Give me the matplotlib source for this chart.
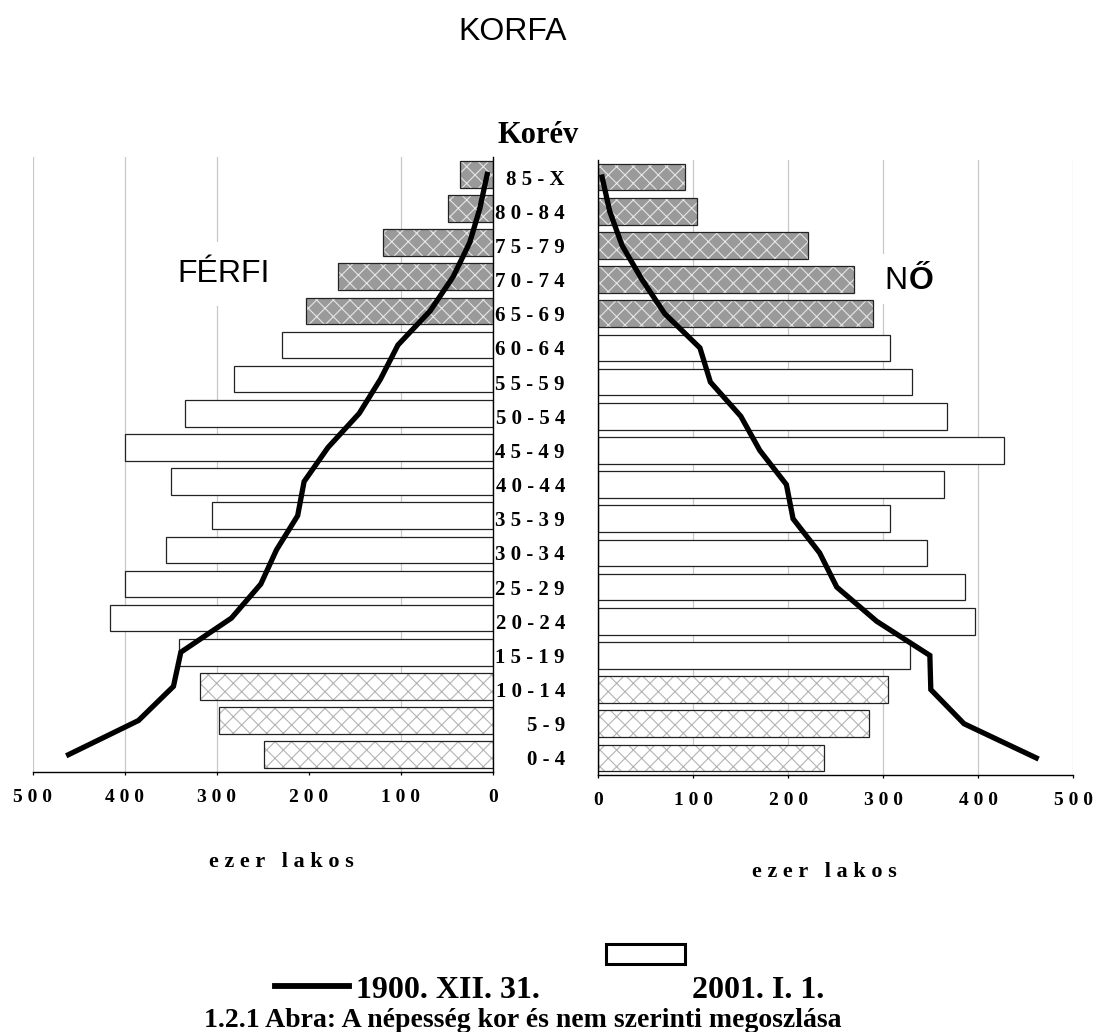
import matplotlib.pyplot as plt
from matplotlib.lines import Line2D
from matplotlib.patches import Rectangle
import numpy as np

# korcsoportok alulrol felfele
ages = ['0-4', '5-9', '10-14', '15-19', '20-24', '25-29', '30-34', '35-39', '40-44',
        '45-49', '50-54', '55-59', '60-64', '65-69', '70-74', '75-79', '80-84', '85-X']

# ezer fo
male_2001 = [249, 297, 318, 341, 416, 400, 355, 305, 350, 400, 334, 281, 229, 203, 168, 119, 49, 36]
female_2001 = [238, 285, 305, 328, 396, 386, 346, 307, 364, 427, 367, 330, 307, 289, 269, 221, 104, 91]
male_1900 = [461, 385, 347, 339, 284, 252, 235, 212, 205, 179, 145, 122, 103, 68, 43, 25, 14, 6]
female_1900 = [461, 385, 350, 349, 293, 251, 233, 205, 198, 170, 150, 118, 107, 70, 46, 25, 12, 4]

xticks = [0, 100, 200, 300, 400, 500]

SERIF = 'Liberation Serif'
SANS = 'Liberation Sans'
plt.rcParams['hatch.linewidth'] = 0.8

W, H = 1105, 1032
fig = plt.figure(figsize=(W / 100, H / 100), dpi=100)


def fx(px):
    return px / W


def fy(py):
    return 1 - py / H


ax_m = fig.add_axes([fx(32.7), fy(771.7), 460 / W, 614.4 / H])
ax_f = fig.add_axes([fx(598.3), fy(775), 475 / W, 615 / H])

pos = np.arange(len(ages))


def style_for(i):
    # 0-14: világos mintás, 65+: sötét mintás, a többi fehér
    if i <= 2:
        return 'white', 'xx', '#b4b4b4'
    if i >= 13:
        return '#9a9a9a', 'xx', '#e6e6e6'
    return 'white', '', 'white'


def draw_side(ax, bars, line, grid_at):
    for v in grid_at:
        ax.axvline(v, color='#c8c8c8', lw=0.9, zorder=0.5)
    rects = ax.barh(pos, bars, height=0.78, linewidth=0, zorder=2)
    for i, r in enumerate(rects):
        face, hatch, hcol = style_for(i)
        r.set_facecolor(face)
        r.set_hatch(hatch)
        r.set_edgecolor(hcol)
    ax.barh(pos, bars, height=0.78, fill=False, edgecolor='#222222', linewidth=0.9, zorder=2.2)
    ax.plot(line, pos, color='black', lw=3.8, zorder=3, solid_joinstyle='miter')
    ax.set_xlim(0, 500)
    ax.set_ylim(-0.5, 17.5)
    ax.set_xticks(xticks, labels=[' '.join(str(t)) for t in xticks])
    ax.tick_params(axis='x', direction='out', length=2.5, width=0.9, pad=10)
    for lab in ax.get_xticklabels():
        lab.set_fontfamily(SERIF)
        lab.set_fontweight('bold')
        lab.set_fontsize(14)
    ax.spines['top'].set_visible(False)
    for s in ax.spines.values():
        s.set_linewidth(1.0)


draw_side(ax_m, male_2001, male_1900, [100, 300, 400, 500])
ax_m.set_xlim(500, 0)
ax_m.spines['left'].set_visible(False)
ax_m.set_yticks([])

draw_side(ax_f, female_2001, female_1900, [100, 200, 300, 400, 500])
ax_f.spines['right'].set_visible(False)
ax_f.set_yticks(pos, labels=[' '.join(a) for a in ages])
ax_f.tick_params(axis='y', length=0, pad=24)
for lab in ax_f.get_yticklabels():
    lab.set_fontfamily(SERIF)
    lab.set_fontweight('bold')
    lab.set_fontsize(15)

ax_m.set_xlabel('e z e r   l a k o s', family=SERIF, weight='bold', fontsize=16, va='center')
ax_m.xaxis.set_label_coords(0.54, -0.147)
ax_f.set_xlabel('e z e r   l a k o s', family=SERIF, weight='bold', fontsize=16, va='center')
ax_f.xaxis.set_label_coords(0.477, -0.158)

# feliratok
fig.text(fx(513), fy(40), 'KORFA', ha='center', va='baseline', family=SANS, fontsize=23)
fig.text(fx(538.5), fy(143), 'Korév', ha='center', va='baseline', family=SERIF,
         weight='bold', fontsize=22)
fig.text(fx(224), fy(282), 'FÉRFI', ha='center', va='baseline', family=SANS, fontsize=23,
         bbox=dict(facecolor='white', edgecolor='none', pad=12))
# a "NŐ" felirat mogotti feher folt (a racsvonalat takarja)
fig.add_artist(Rectangle((fx(876), fy(304)), 66 / W, 50 / H, facecolor='white',
                         edgecolor='none', zorder=1))
fig.text(fx(884), fy(289), 'N', ha='left', va='baseline', family=SANS, fontsize=23)
fig.text(fx(909), fy(289), 'Ő', ha='left', va='baseline', family=SANS, weight='bold',
         fontsize=23)

# jelmagyarazat
fig.add_artist(Line2D([fx(275), fx(349)], [fy(986), fy(986)], color='black', lw=4.2))
fig.text(fx(356), fy(998), '1900. XII. 31.', ha='left', va='baseline', family=SERIF,
         weight='bold', fontsize=23)
fig.add_artist(Rectangle((fx(606), fy(964)), 79 / W, 20 / H, facecolor='white',
                         edgecolor='black', lw=2.2))
fig.text(fx(692), fy(998), '2001. I. 1.', ha='left', va='baseline', family=SERIF,
         weight='bold', fontsize=23)
fig.text(fx(204), fy(1027), '1.2.1 Abra: A népesség kor és nem szerinti megoszlása',
         ha='left', va='baseline', family=SERIF, weight='bold', fontsize=20)

fig.savefig('out.png', dpi=100, facecolor='white')
